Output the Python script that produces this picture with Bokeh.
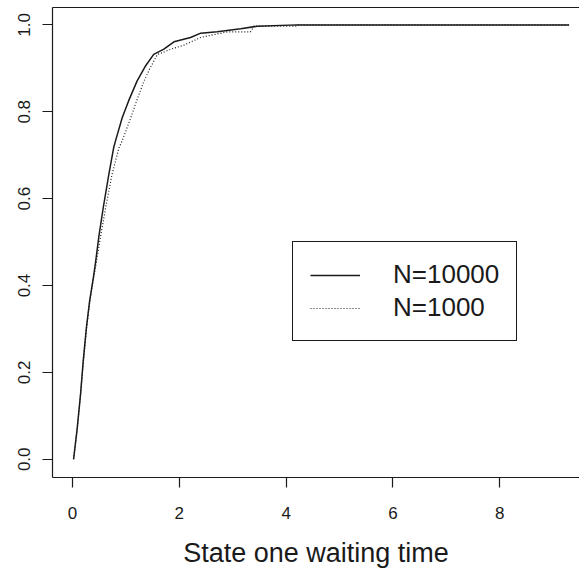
from bokeh.plotting import figure
from bokeh.models import (Range1d, FixedTicker, NumeralTickFormatter, LinearAxis,
                          Legend, LegendItem)
from bokeh.embed import file_html
from bokeh.resources import INLINE

x_n10000 = [0.02, 0.088, 0.15, 0.20, 0.26, 0.32, 0.39, 0.43, 0.49, 0.575, 0.68,
            0.77, 0.805, 0.93, 1.05, 1.21, 1.37, 1.52, 1.71, 1.90, 2.21, 2.40,
            2.71, 3.15, 3.46, 4.20, 9.30]
y_n10000 = [0.0, 0.072, 0.149, 0.226, 0.303, 0.364, 0.418, 0.452, 0.510, 0.579,
            0.656, 0.717, 0.733, 0.786, 0.825, 0.871, 0.906, 0.932, 0.944, 0.961,
            0.971, 0.981, 0.984, 0.991, 0.997, 1.0, 1.0]

x_n1000 = [0.02, 0.09, 0.15, 0.20, 0.26, 0.32, 0.39, 0.43, 0.51, 0.62, 0.74,
           0.87, 0.93, 1.09, 1.20, 1.34, 1.45, 1.59, 1.66, 1.84, 2.08, 2.40,
           2.90, 3.33, 3.40, 4.18, 4.20, 9.30]
y_n1000 = [0.0, 0.070, 0.150, 0.220, 0.300, 0.360, 0.415, 0.441, 0.502, 0.579,
           0.656, 0.717, 0.733, 0.786, 0.825, 0.871, 0.900, 0.932, 0.935, 0.944,
           0.953, 0.971, 0.984, 0.984, 0.997, 0.997, 1.0, 1.0]

x_ticks = [0, 2, 4, 6, 8]
y_ticks = [0.0, 0.2, 0.4, 0.6, 0.8, 1.0]
legend_labels = ["N=10000", "N=1000"]
x_title = "State one waiting time"

INK = "#1a1a1a"
FONT = "Liberation Sans"

p = figure(width=579, height=573, output_backend="svg", toolbar_location=None,
           x_range=Range1d(-0.375, 9.494), y_range=Range1d(-0.042, 1.04),
           min_border_left=52, min_border_right=0, min_border_top=7,
           min_border_bottom=96)
p.outline_line_color = None
p.grid.visible = False
p.background_fill_color = "white"
p.border_fill_color = "white"

for ax in (p.xaxis[0], p.yaxis[0]):
    ax.axis_line_color = INK
    ax.axis_line_width = 1.2
    ax.major_tick_line_color = INK
    ax.major_tick_line_width = 1.2
    ax.major_tick_out = 10
    ax.major_tick_in = 0
    ax.minor_tick_line_color = None
    ax.major_label_text_font = FONT
    ax.major_label_text_font_size = "17px"
    ax.major_label_text_color = INK

p.xaxis[0].ticker = FixedTicker(ticks=x_ticks)
p.xaxis[0].major_label_standoff = 19
p.xaxis[0].axis_label = x_title
p.xaxis[0].axis_label_text_font = FONT
p.xaxis[0].axis_label_text_font_size = "27px"
p.xaxis[0].axis_label_text_font_style = "normal"
p.xaxis[0].axis_label_text_color = INK
p.xaxis[0].axis_label_standoff = 16

p.yaxis[0].ticker = FixedTicker(ticks=y_ticks)
p.yaxis[0].formatter = NumeralTickFormatter(format="0.0")
p.yaxis[0].major_label_orientation = "vertical"
p.yaxis[0].major_label_standoff = 12

top = LinearAxis(ticker=FixedTicker(ticks=[]), axis_line_color=INK,
                 axis_line_width=1.2, major_tick_line_color=None,
                 minor_tick_line_color=None, major_label_text_font_size="0px")
p.add_layout(top, "above")

r1 = p.line(x_n10000, y_n10000, line_color=INK, line_width=1.5)
r2 = p.line(x_n1000, y_n1000, line_color=INK, line_width=1.2, line_dash="1 2")

legend = Legend(items=[LegendItem(label=legend_labels[0], renderers=[r1]),
                       LegendItem(label=legend_labels[1], renderers=[r2])],
                location=(240, 136), orientation="vertical",
                label_text_font=FONT, label_text_font_size="26px",
                label_text_color=INK, glyph_width=50, glyph_height=28,
                label_height=28, label_standoff=33, spacing=2, padding=17,
                border_line_color=INK, border_line_width=1.2,
                border_line_alpha=1.0,
                background_fill_color="white", background_fill_alpha=1.0,
                margin=0)
p.add_layout(legend, "center")

open("out.html", "w").write(file_html(p, INLINE))
